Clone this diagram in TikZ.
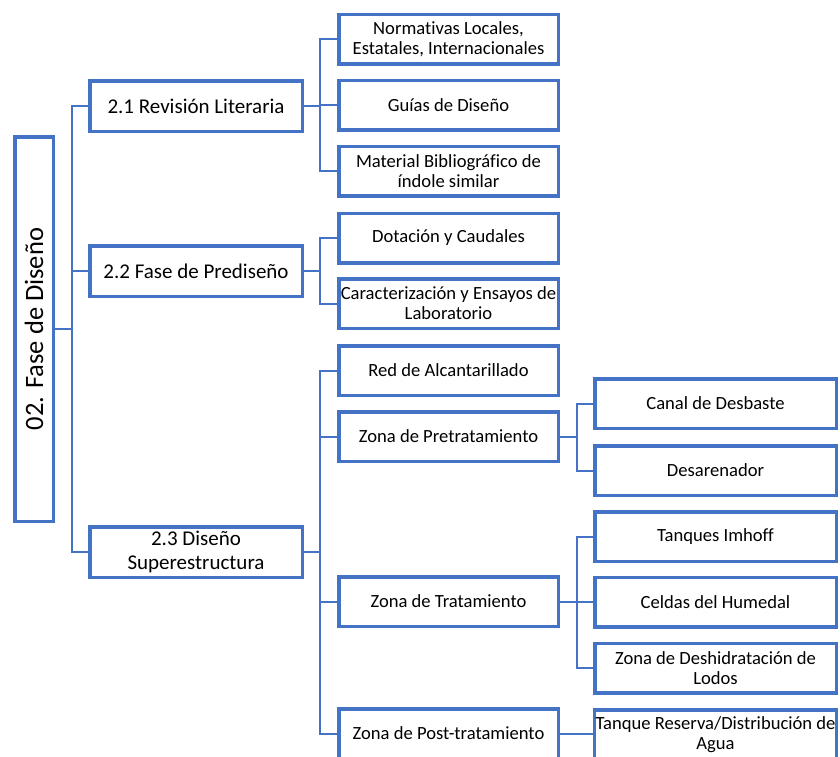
\documentclass[tikz,border=0pt]{standalone}
\usepackage{fontspec}
\setmainfont{Carlito}[Ligatures=NoCommon]
\definecolor{sablue}{HTML}{4472C4}
\tikzset{
  box/.style={draw=sablue, line width=3.5pt, fill=white, align=center, inner sep=1pt, text=black},
  lvlone/.style={box, minimum width=212.5pt, minimum height=50.5pt, font=\fontsize{21}{24}\selectfont},
  lvltwo/.style={box, minimum width=219.5pt, minimum height=49.5pt, font=\fontsize{18.6}{20}\selectfont},
  lvlthree/.style={box, minimum width=241.5pt, minimum height=49.5pt, font=\fontsize{18.6}{20}\selectfont},
  conn/.style={draw=sablue, line width=2pt}
}
\begin{document}
\begin{tikzpicture}[x=1pt, y=-1pt]
\useasboundingbox (0,0) rectangle (840,756);
\clip (0,0) rectangle (840,756);
% bus coordinates
\coordinate (busA) at (72,0);
\coordinate (busB) at (320,0);
\coordinate (busC) at (577,0);
% root
\node[box, minimum width=38.5pt, minimum height=384.5pt, inner sep=0pt] (root) at (34,329) {\fontsize{26.5}{30}\selectfont\rotatebox{90}{02. Fase de Diseño}};
% level 1
\node[lvlone] (r21) at (196,106) {2.1 Revisión Literaria};
\node[lvlone] (r22) at (196,271) {2.2 Fase de Prediseño};
\node[lvlone] (r23) at (196,552) {2.3 Diseño\\Superestructura};
% level 2
\node[lvltwo] (n1) at (448.5,39) {Normativas Locales,\\Estatales, Internacionales};
\node[lvltwo] (n2) at (448.5,105) {Guías de Diseño};
\node[lvltwo] (n3) at (448.5,171) {Material Bibliográfico de\\índole similar};
\node[lvltwo] (d1) at (448.5,238) {Dotación y Caudales};
\node[lvltwo] (d2) at (448.5,303.5) {Caracterización y Ensayos de\\Laboratorio};
\node[lvltwo] (s1) at (448.5,370.5) {Red de Alcantarillado};
\node[lvltwo] (s2) at (448.5,436.5) {Zona de Pretratamiento};
\node[lvltwo] (s3) at (448.5,601.5) {Zona de Tratamiento};
\node[lvltwo] (s4) at (448.5,733.5) {Zona de Post-tratamiento};
% level 3
\node[lvlthree] (t1) at (715.5,403.5) {Canal de Desbaste};
\node[lvlthree] (t2) at (715.5,470.5) {Desarenador};
\node[lvlthree] (t3) at (715.5,536.5) {Tanques Imhoff};
\node[lvlthree] (t4) at (715.5,602) {Celdas del Humedal};
\node[lvlthree] (t5) at (715.5,668) {Zona de Deshidratación de\\Lodos};
\node[lvlthree] (t6) at (715.5,734.5) {Tanque Reserva/Distribución de\\Agua};
% connectors
\begin{scope}[on background layer/.try]
\foreach \c in {r21,r22,r23}
  \draw[conn] (root.east) -- (root.east -| busA) |- (\c.west);
\foreach \c in {n1,n2,n3}
  \draw[conn] (r21.east) -- (r21.east -| busB) |- (\c.west);
\foreach \c in {d1,d2}
  \draw[conn] (r22.east) -- (r22.east -| busB) |- (\c.west);
\foreach \c in {s1,s2,s3,s4}
  \draw[conn] (r23.east) -- (r23.east -| busB) |- (\c.west);
\foreach \c in {t1,t2}
  \draw[conn] (s2.east) -- (s2.east -| busC) |- (\c.west);
\foreach \c in {t3,t4,t5}
  \draw[conn] (s3.east) -- (s3.east -| busC) |- (\c.west);
\draw[conn] (s4.east) -- (s4.east -| t6.west);
\end{scope}
\end{tikzpicture}
\end{document}
